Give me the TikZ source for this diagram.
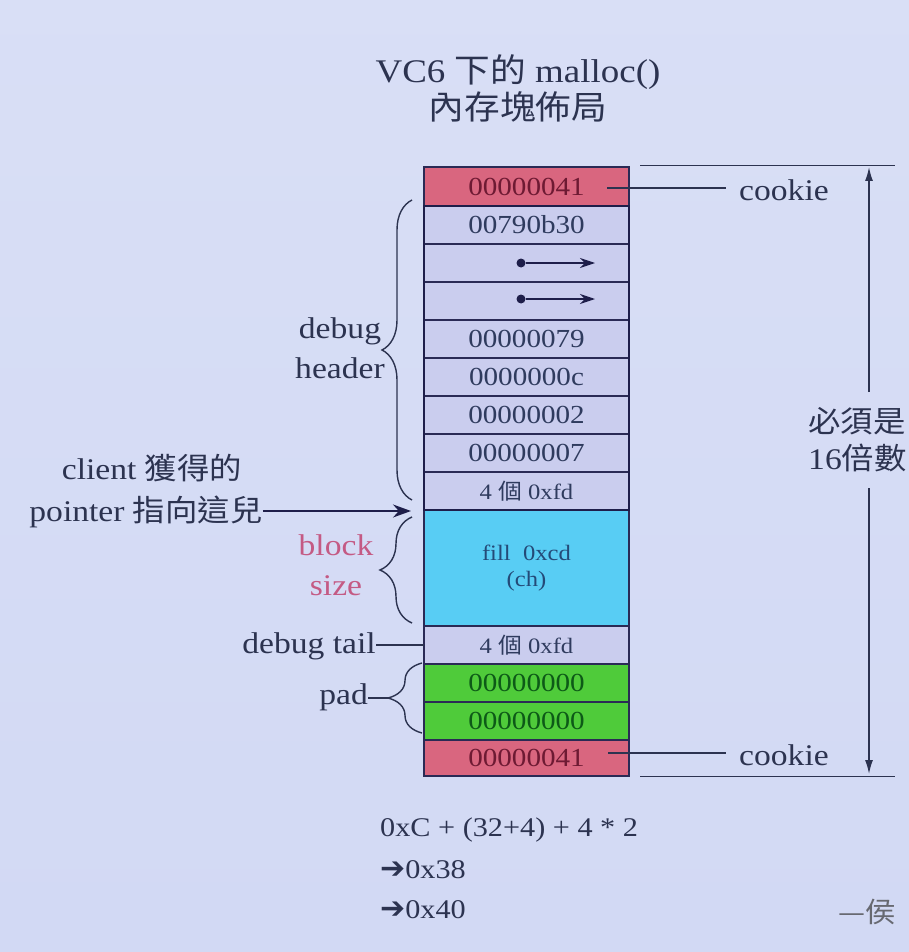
\documentclass[tikz,border=0pt]{standalone}
\usepackage{fontspec}
\setmainfont{Liberation Serif}[FakeStretch=1.12]
\newfontfamily\cjk{Noto Sans CJK TC}[FakeStretch=1.08]
\newfontfamily\symf{DejaVu Sans}
\newcommand\zh[1]{{\cjk #1}}
\usetikzlibrary{decorations.pathreplacing,arrows.meta}
\definecolor{bgc}{HTML}{D2D9F4}
\definecolor{pinkc}{HTML}{D9667F}
\definecolor{pinkt}{HTML}{6E1A33}
\definecolor{hdrc}{HTML}{CACDEE}
\definecolor{hdrt}{HTML}{2F3B5E}
\definecolor{cyanc}{HTML}{58CDF4}
\definecolor{cyant}{HTML}{244A78}
\definecolor{greenc}{HTML}{4FCB3A}
\definecolor{greent}{HTML}{0D5A17}
\definecolor{linec}{HTML}{2A2A55}
\definecolor{navyc}{HTML}{1E1E4A}
\definecolor{labt}{HTML}{2C3350}
\definecolor{bst}{HTML}{C45A84}
\begin{document}
\begin{tikzpicture}[x=1pt,y=1pt,
  cell/.style={draw=linec, line width=1.3pt, minimum width=205pt, minimum height=38pt,
    inner sep=0pt, outer sep=0pt, font=\fontsize{26}{30}\selectfont},
  smallcell/.style={cell, font=\fontsize{22}{26}\selectfont},
  hdr/.style={fill=hdrc, text=hdrt},
  ck/.style={fill=pinkc, text=pinkt},
  grn/.style={fill=greenc, text=greent},
  lab/.style={text=labt, font=\fontsize{30}{40}\selectfont, inner sep=0pt},
  conn/.style={draw=labt, line width=1.5pt},
  brc/.style={draw=labt, line width=1.4pt, decorate},
  dotn/.style={circle, fill=navyc, inner sep=0pt, minimum size=9pt},
  ptr/.style={draw=navyc, line width=1.6pt, -{Stealth[length=15pt,width=10pt]}},
  dim/.style={draw=labt, line width=1.5pt, -{Latex[length=14pt,width=8pt]}}
]
\useasboundingbox (0,0) rectangle (909,-952);
\clip (0,0) rectangle (909,-952);
\shade[top color=bgc!85!white, bottom color=bgc] (0,0) rectangle (909,-952);

% title
\node[text=labt, font=\fontsize{33}{40}\selectfont] (t1) at (518,-72) {VC6 \zh{下的} malloc()};
\node[text=labt, font=\fontsize{33}{40}\selectfont] (t2) at (518,-107) {\zh{內存塊佈局}};

% cells
\node[cell, ck, minimum height=39pt] (c0) at (526.5,-186.5) {00000041};
\node[cell, hdr] (h1) at (526.5,-225) {00790b30};
\node[cell, hdr] (h2) at (526.5,-263) {};
\node[cell, hdr] (h3) at (526.5,-301) {};
\node[cell, hdr] (h4) at (526.5,-339) {00000079};
\node[cell, hdr] (h5) at (526.5,-377) {0000000c};
\node[cell, hdr] (h6) at (526.5,-415) {00000002};
\node[cell, hdr] (h7) at (526.5,-453) {00000007};
\node[smallcell, hdr] (h8) at (526.5,-491) {4 \zh{個} 0xfd};
\node[smallcell, fill=cyanc, text=cyant, minimum height=116pt, align=center]
  (blk) at (526.5,-568) {fill\ \ 0xcd\\(ch)};
\node[smallcell, hdr] (tail) at (526.5,-645) {4 \zh{個} 0xfd};
\node[cell, grn] (p1) at (526.5,-683) {00000000};
\node[cell, grn] (p2) at (526.5,-721) {00000000};
\node[cell, ck, minimum height=36pt] (c1) at (526.5,-758) {00000041};

\draw[navyc, line width=2.8pt] (h1.north west) rectangle (h8.south east);

% pointer arrows inside rows
\node[dotn] (d1) at (521,-263) {};
\node[dotn] (d2) at (521,-299) {};
\coordinate (e1) at (595,-263);
\coordinate (e2) at (595,-299);
\draw[ptr] (d1) -- (e1);
\draw[ptr] (d2) -- (e2);

% cookies
\node[lab] (ck0) at (784,-190) {cookie};
\node[lab] (ck1) at (784,-755) {cookie};
\coordinate (k0) at (607,-188);
\coordinate (k1) at (608,-753);
\draw[conn] (k0) -- ([xshift=-13pt]ck0.west |- k0);
\draw[conn] (k1) -- ([xshift=-13pt]ck1.west |- k1);

% right dimension
\coordinate (r0a) at (640,-165);
\coordinate (r0b) at (895,-165);
\coordinate (r1a) at (640,-776);
\coordinate (r1b) at (895,-776);
\draw[conn, line width=0.9pt] (r0a) -- (r0b);
\draw[conn, line width=0.9pt] (r1a) -- (r1b);
\node[text=labt, font=\fontsize{30}{37}\selectfont, align=left, anchor=west, inner sep=0pt]
  (mul) at (808,-440) {\zh{必須是}\\16\zh{倍數}};
\coordinate (at0) at (869,-167);
\coordinate (at1) at (869,-774);
\coordinate (g0) at (869,-392);
\coordinate (g1) at (869,-488);
\draw[dim] (g0) -- (at0);
\draw[dim] (g1) -- (at1);

% left labels
\node[lab, align=center] (dh) at (340,-348) {debug\\header};
\draw[brc, decoration={brace, amplitude=30pt}] (412,-500) -- (412,-200);

\node[lab] (cl1) at (152,-468) {client \zh{獲得的}};
\node[lab] (cl2) at (146,-512) {pointer \zh{指向這兒}};
\coordinate (ptip) at (411,-511);
\draw[ptr, -{Stealth[length=18pt,width=13pt]}] (cl2.east |- ptip) -- (ptip);

\node[lab, text=bst, align=center] (bs) at (336,-565) {block\\size};
\draw[brc, decoration={brace, amplitude=32pt}] (412,-623) -- (412,-517);

\node[lab, anchor=east] (dt) at (376,-646) {debug tail};
\draw[conn] (dt.east |- tail.west) -- (tail.west);

\node[lab, anchor=east] (pd) at (368,-697) {pad};
\coordinate (ptp) at (388,-698);
\draw[conn] (pd.east |- ptp) -- (ptp);
\draw[brc, decoration={brace, amplitude=34pt}] (422,-733) -- (422,-663);

% formula
\node[text=labt, font=\fontsize{27}{40}\selectfont, anchor=west, inner sep=0pt] (f1) at (380,-830) {0xC + (32+4) + 4 * 2};
\node[text=labt, font=\fontsize{27}{40}\selectfont, anchor=west, inner sep=0pt] (f2) at (380,-870) {{\symf\bfseries\fontsize{30}{40}\selectfont ➔}0x38};
\node[text=labt, font=\fontsize{27}{40}\selectfont, anchor=west, inner sep=0pt] (f3) at (380,-910) {{\symf\bfseries\fontsize{30}{40}\selectfont ➔}0x40};
\node[text=gray!70!labt, font=\fontsize{28}{34}\selectfont, anchor=west, inner sep=0pt] (au) at (838,-912) {\zh{—侯}};
\end{tikzpicture}
\end{document}
